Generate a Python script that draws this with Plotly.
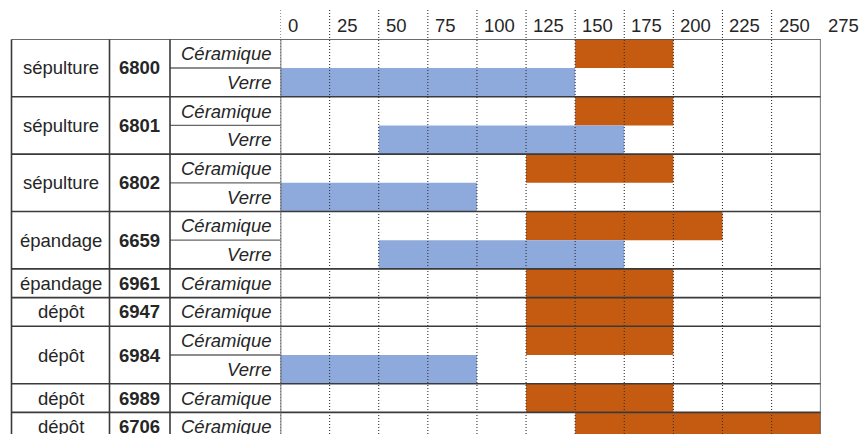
import plotly.graph_objects as go

# Sites (one block per feature), in display order
site_types = ["sépulture", "sépulture", "sépulture", "épandage", "épandage",
              "dépôt", "dépôt", "dépôt", "dépôt"]
site_ids = ["6800", "6801", "6802", "6659", "6961", "6947", "6984", "6989", "6706"]

# Dating ranges per material (None = material absent for that site)
ceramique_start = [150, 150, 125, 125, 125, 125, 125, 125, 150]
ceramique_end = [200, 200, 200, 225, 200, 200, 200, 200, 275]
verre_start = [0, 50, 0, 50, None, None, 0, None, None]
verre_end = [150, 175, 100, 175, None, None, 100, None, None]

tick_values = [0, 25, 50, 75, 100, 125, 150, 175, 200, 225, 250, 275]

W, H = 861, 434
X0_PX, X1_PX = 280.5, 820.7       # timeline area
TOP_PX, ROW_PX = 39.3, 28.7       # table top and row height
COL_PX = [11.5, 109.5, 170.0]     # table column borders
FONT = "Liberation Sans, Arial, sans-serif"
FS = 18.5
TXT = "#262626"
ORANGE = "#C55A11"
BLUE = "#8EA9DB"
DARK = "#3a3a3a"

def px(x):
    return x / W

# expand sites into table rows
rows = []  # (site index, material, start, end)
for i in range(len(site_ids)):
    rows.append((i, "Céramique", ceramique_start[i], ceramique_end[i]))
    if verre_start[i] is not None:
        rows.append((i, "Verre", verre_start[i], verre_end[i]))

fig = go.Figure()

for mat, color in (("Céramique", ORANGE), ("Verre", BLUE)):
    ys, bases, lens = [], [], []
    for r, (i, m, s, e) in enumerate(rows):
        if m == mat:
            ys.append(r + 0.5)
            bases.append(s)
            lens.append(e - s)
    fig.add_trace(go.Bar(
        y=ys, x=lens, base=bases, orientation="h", width=1,
        marker=dict(color=color, line=dict(width=0)),
        name=mat, showlegend=False, hoverinfo="skip"))

shapes = []
annotations = []

# dotted vertical gridlines (extend into header)
for t in tick_values[:-1]:
    shapes.append(dict(type="line", xref="x", yref="paper", x0=t, x1=t,
                       y0=0, y1=1 - 10 / H, layer="above",
                       line=dict(color="#333333", width=1.1, dash="1px,2px")))

# tick labels, placed just right of their gridline
for t in tick_values:
    annotations.append(dict(xref="x", yref="paper", x=t, y=1 - 26 / H,
                            text=str(t), showarrow=False, xanchor="left",
                            yanchor="middle", xshift=5,
                            font=dict(family=FONT, size=FS, color=TXT)))

# group boundaries (full width) and material separators
site_first_row = {}
for idx, (i, m, s, e) in enumerate(rows):
    if i not in site_first_row:
        site_first_row[i] = idx
        shapes.append(dict(type="line", xref="paper", yref="y",
                           x0=px(COL_PX[0]), x1=px(X1_PX), y0=idx, y1=idx,
                           layer="above", line=dict(color=DARK, width=1.6)))
    else:
        shapes.append(dict(type="line", xref="paper", yref="y",
                           x0=px(COL_PX[2]), x1=px(X0_PX), y0=idx, y1=idx,
                           layer="above", line=dict(color="#666666", width=1.3)))
n_rows = len(rows)
shapes.append(dict(type="line", xref="paper", yref="y",
                   x0=px(COL_PX[0]), x1=px(X1_PX), y0=n_rows, y1=n_rows,
                   layer="above", line=dict(color=DARK, width=1.6)))

# vertical table borders
for xp in COL_PX:
    shapes.append(dict(type="line", xref="paper", yref="y", x0=px(xp), x1=px(xp),
                       y0=0, y1=n_rows, layer="above",
                       line=dict(color=DARK, width=1.6)))
for t in (tick_values[0], tick_values[-1]):
    shapes.append(dict(type="line", xref="x", yref="y", x0=t, x1=t,
                       y0=0, y1=n_rows, layer="above",
                       line=dict(color="#555555", width=1.6)))

# table text
for i in range(len(site_ids)):
    first = site_first_row[i]
    n = sum(1 for rr in rows if rr[0] == i)
    yc = first + n / 2
    annotations.append(dict(xref="paper", yref="y", x=px((COL_PX[0] + COL_PX[1]) / 2),
                            y=yc, text=site_types[i], showarrow=False,
                            xanchor="center", yanchor="middle",
                            font=dict(family=FONT, size=FS, color=TXT)))
    annotations.append(dict(xref="paper", yref="y", x=px((COL_PX[1] + COL_PX[2]) / 2),
                            y=yc, text="<b>" + site_ids[i] + "</b>", showarrow=False,
                            xanchor="center", yanchor="middle",
                            font=dict(family=FONT, size=FS, color=TXT)))
for idx, (i, m, s, e) in enumerate(rows):
    annotations.append(dict(xref="paper", yref="y", x=px(X0_PX - 7), y=idx + 0.5,
                            text="<i>" + m + "</i>", showarrow=False,
                            xanchor="right", yanchor="middle",
                            font=dict(family=FONT, size=FS, color=TXT)))

plot_bottom_rows = (H - TOP_PX) / ROW_PX

fig.update_layout(
    width=W, height=H,
    margin=dict(l=0, r=0, t=0, b=0),
    paper_bgcolor="white", plot_bgcolor="white",
    barmode="overlay",
    xaxis=dict(domain=[px(X0_PX), px(X1_PX)], range=[tick_values[0], tick_values[-1]],
               visible=False, showgrid=False, zeroline=False, fixedrange=True),
    yaxis=dict(domain=[0, 1 - TOP_PX / H], range=[plot_bottom_rows, 0],
               visible=False, showgrid=False, zeroline=False, fixedrange=True),
    shapes=shapes,
    annotations=annotations,
)

fig.write_html("out.html", config={"displayModeBar": False})
